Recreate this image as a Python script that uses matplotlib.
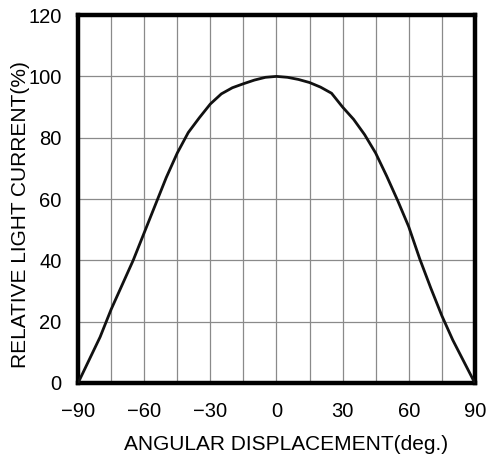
import matplotlib
matplotlib.use("Agg")
import matplotlib.pyplot as plt

angles = [-90, -80, -75, -70, -65, -60, -55, -50, -45, -40, -35, -30, -25, -20, -15, -10, -5,
          0, 5, 10, 15, 20, 25, 30, 35, 40, 45, 50, 55, 60, 65, 70, 75, 80, 85, 90]
relative_current = [0, 15, 24, 32, 40, 49, 58, 67, 75, 81.7, 86.5, 91, 94.3, 96.3, 97.6, 98.8, 99.7,
                     100, 99.7, 99, 98, 96.5, 94.5, 90, 86, 81, 75, 67.5, 59.5, 51, 40.5, 31, 22, 14, 7, 0]
xticks = [-90, -60, -30, 0, 30, 60, 90]
yticks = [0, 20, 40, 60, 80, 100, 120]

plt.rcParams['font.family'] = ['Liberation Sans', 'Noto Sans CJK JP', 'DejaVu Sans']

fig = plt.figure(figsize=(4.88, 4.57), dpi=100)
ax = fig.add_axes([0.160, 0.162, 0.813, 0.805])

ax.plot(angles, relative_current, color='#111111', linewidth=2.0, zorder=3)

ax.set_xlim(-90, 90)
ax.set_ylim(0, 120)
ax.set_xticks(xticks)
ax.set_yticks(yticks)
ax.set_xticks(range(-90, 91, 15), minor=True)
ax.grid(which='both', color='#8a8a8a', linewidth=0.9)
ax.tick_params(which='both', length=0, labelsize=14.5)
ax.tick_params(axis='x', pad=14)
ax.tick_params(axis='y', pad=12)
ax.set_xticklabels(['\u221290', '\u221260', '\u221230', '0', '30', '60', '90'])

for s in ax.spines.values():
    s.set_linewidth(3.2)
    s.set_color('black')

ax.set_xlabel('ANGULAR DISPLACEMENT(deg.)', fontsize=15, va='center')
ax.set_ylabel('RELATIVE LIGHT CURRENT(%)', fontsize=15, va='center')
ax.xaxis.set_label_coords(0.524, -0.166)
ax.yaxis.set_label_coords(-0.146, 0.459)

fig.savefig('out.png', dpi=100)
